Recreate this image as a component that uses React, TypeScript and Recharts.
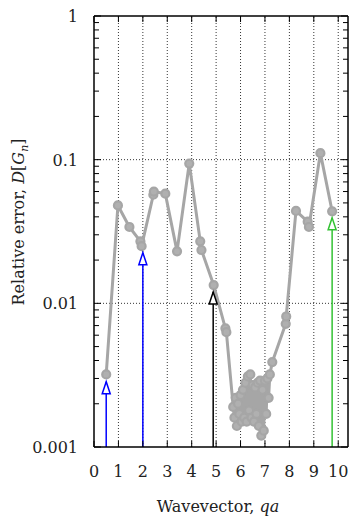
import React from "react";
import { LineChart, Line, XAxis, YAxis, ReferenceLine } from "recharts";

// wavevector qa and relative error D[G_n]
const qa = [
  0.5, 0.98, 1.45, 1.9, 1.95, 2.43, 2.45, 2.92, 3.4, 3.9, 4.35, 4.4, 4.9, 5.38, 5.42,
  5.7, 5.75, 5.8, 5.85, 5.9, 5.95, 6.0, 6.05, 6.1, 6.15, 6.2, 6.25, 6.3, 6.35, 6.4,
  6.45, 6.5, 6.55, 6.6, 6.65, 6.7, 6.75, 6.8, 6.85, 6.9, 6.95, 7.0, 7.05, 7.1, 7.15,
  7.2, 7.3, 7.85, 7.87, 8.27, 8.75, 8.8, 9.27, 9.75,
];
const relErr = [
  0.0032, 0.048, 0.034, 0.027, 0.025, 0.057, 0.06, 0.058, 0.023, 0.094, 0.027, 0.0235,
  0.0134, 0.0067, 0.0063, 0.0019, 0.0016, 0.0022, 0.0014, 0.002, 0.0017, 0.0023, 0.0015,
  0.0025, 0.0016, 0.0028, 0.0015, 0.0031, 0.0018, 0.0032, 0.0016, 0.0027, 0.0015, 0.0026,
  0.0017, 0.0028, 0.0014, 0.0029, 0.0012, 0.0025, 0.0013, 0.0029, 0.0017, 0.003, 0.0022,
  0.0032, 0.0039, 0.0072, 0.0081, 0.044, 0.037, 0.034, 0.111, 0.0437,
];

// arrows marking selected wavevectors
const arrowQa = [0.5, 2.0, 4.88, 9.75];
const arrowTip = [0.00285, 0.0225, 0.012, 0.0394];
const arrowColor = ["#0000ff", "#0000ff", "#000000", "#33c233"];

const xTicks = [0, 1, 2, 3, 4, 5, 6, 7, 8, 9, 10];
const yMajor = [0.001, 0.01, 0.1, 1];

const yTicks: number[] = [];
[0.001, 0.01, 0.1].forEach((d) => {
  for (let k = 1; k < 10; k++) yTicks.push(+(d * k).toPrecision(3));
});
yTicks.push(1);

const data = qa.map((x, i) => ({ x, y: relErr[i] }));

const W = 351;
const H = 521;
const LEFT = 94;
const RIGHT = 348;
const TOP = 16;
const BOTTOM = 447;
const FONT = "DejaVu Serif";
const GRAY = "#a6a6a6";

const YTick = (props: any) => {
  const { y, payload } = props;
  const v = payload.value;
  const major = yMajor.some((m) => Math.abs(m - v) < 1e-9);
  const len = major ? 7 : 5;
  return (
    <g>
      <line x1={LEFT} x2={LEFT + len} y1={y} y2={y} stroke="#000" strokeWidth={1} />
      <line x1={RIGHT} x2={RIGHT - len} y1={y} y2={y} stroke="#000" strokeWidth={1} />
      {major && (
        <text x={78} y={y + 6} textAnchor="end" fontFamily={FONT} fontSize={16} fill="#222">
          {String(v)}
        </text>
      )}
    </g>
  );
};

const XTick = (props: any) => {
  const { x, payload } = props;
  return (
    <g>
      <line x1={x} x2={x} y1={BOTTOM} y2={BOTTOM - 6} stroke="#000" strokeWidth={1} />
      <line x1={x} x2={x} y1={TOP} y2={TOP + 6} stroke="#000" strokeWidth={1} />
      <text x={x} y={477} textAnchor="middle" fontFamily={FONT} fontSize={16} fill="#222">
        {payload.value}
      </text>
    </g>
  );
};

const GrayDot = (props: any) => {
  const { cx, cy, index } = props;
  return <circle key={index} cx={cx} cy={cy} r={4} fill="#b0b0b0" stroke={GRAY} strokeWidth={2.2} />;
};

const makeHead = (color: string) => (props: any) => {
  const { cx, cy, index } = props;
  if (index !== 1) return <g key={index} />;
  return (
    <path
      key={index}
      d={`M${cx},${cy} L${cx - 4},${cy + 12} L${cx + 4},${cy + 12} Z`}
      fill="#fff"
      stroke={color}
      strokeWidth={1.5}
    />
  );
};

export default function App() {
  return (
    <div style={{ position: "absolute", left: 0, top: 0, width: W, height: H, background: "#fff" }}>
      <LineChart width={W} height={H} margin={{ top: TOP, right: W - RIGHT, bottom: 0, left: 0 }}>
        <XAxis
          dataKey="x"
          type="number"
          domain={[0, 10.4]}
          ticks={xTicks}
          interval={0}
          tickLine={false}
          axisLine={{ stroke: "#000", strokeWidth: 1.5 }}
          tick={<XTick />}
          height={H - BOTTOM}
          allowDataOverflow
        />
        <YAxis
          dataKey="y"
          type="number"
          scale="log"
          domain={[0.001, 1]}
          ticks={yTicks}
          interval={0}
          tickLine={false}
          axisLine={{ stroke: "#000", strokeWidth: 1.5 }}
          tick={<YTick />}
          width={LEFT}
          allowDataOverflow
        />
        {xTicks.slice(1).map((t) => (
          <ReferenceLine key={`gx${t}`} x={t} stroke="#000" strokeDasharray="1 2" strokeWidth={0.8} />
        ))}
        {yMajor.slice(1, 3).map((t) => (
          <ReferenceLine key={`gy${t}`} y={t} stroke="#000" strokeDasharray="1 2" strokeWidth={0.8} />
        ))}
        <ReferenceLine y={1} stroke="#000" strokeWidth={1.5} />
        <ReferenceLine x={10.4} stroke="#000" strokeWidth={1.5} />
        <Line
          data={data}
          dataKey="y"
          stroke={GRAY}
          strokeWidth={3}
          strokeLinejoin="round"
          dot={<GrayDot />}
          isAnimationActive={false}
        />
        {arrowQa.map((x, i) => (
          <Line
            key={`arrow${i}`}
            data={[
              { x, y: 0.001 },
              { x, y: arrowTip[i] },
            ]}
            dataKey="y"
            stroke={arrowColor[i]}
            strokeWidth={1.5}
            dot={makeHead(arrowColor[i])}
            isAnimationActive={false}
          />
        ))}
      </LineChart>
      <svg
        width={W}
        height={H}
        style={{ position: "absolute", left: 0, top: 0, pointerEvents: "none" }}
      >
        <text
          transform={`translate(24, 222) rotate(-90)`}
          textAnchor="middle"
          fontFamily={FONT}
          fontSize={16}
          fill="#222"
        >
          Relative error, <tspan fontStyle="italic">D</tspan>[<tspan fontStyle="italic">G</tspan>
          <tspan fontStyle="italic" fontSize={11} dy={4}>n</tspan>
          <tspan dy={-4}>]</tspan>
        </text>
        <text x={218} y={512} textAnchor="middle" fontFamily={FONT} fontSize={16} fill="#222">
          Wavevector, <tspan fontStyle="italic">qa</tspan>
        </text>
      </svg>
    </div>
  );
}
